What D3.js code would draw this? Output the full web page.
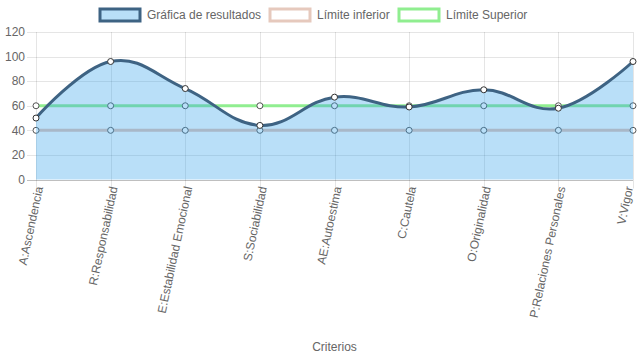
<!DOCTYPE html>
<html><head><meta charset="utf-8">
<script src="https://cdn.jsdelivr.net/npm/d3@7"></script>
<style>body{margin:0;background:#fff}svg{display:block}text{font-family:"Liberation Sans",Arial,sans-serif}</style>
</head><body>
<svg id="c" width="637" height="359"></svg>
<script>
const categories = ["A:Ascendencia","R:Responsabilidad","E:Estabilidad Emocional","S:Sociabilidad","AE:Autoestima","C:Cautela","O:Originalidad","P:Relaciones Personales","V:Vigor"];
const resultados = [50,96,74,44,67,59,73,58,96];
const limiteInferior = [40,40,40,40,40,40,40,40,40];
const limiteSuperior = [60,60,60,60,60,60,60,60,60];
const yTicks = [0,20,40,60,80,100,120];
const legendLabels = ["Gráfica de resultados","Límite inferior","Límite Superior"];
const axisTitle = "Criterios";

const svg = d3.select("#c");
const L = 36, R = 633, T = 32, B = 179.5;
const x = d3.scalePoint().domain(categories).range([L, R]);
const y = d3.scaleLinear().domain([0,120]).range([B, T]);
const txt = "#666";

// grid
const g = svg.append("g");
g.selectAll(".hg").data(yTicks).join("line")
  .attr("x1", L-9).attr("x2", R).attr("y1", d=>Math.round(y(d))+0.5).attr("y2", d=>Math.round(y(d))+0.5)
  .attr("stroke", d=> d===0 ? "rgba(0,0,0,0.25)" : "rgba(0,0,0,0.1)").attr("stroke-width",1);
g.selectAll(".vg").data(categories).join("line")
  .attr("x1", d=>Math.round(x(d))+0.5).attr("x2", d=>Math.round(x(d))+0.5)
  .attr("y1", T).attr("y2", B+9)
  .attr("stroke", "rgba(0,0,0,0.1)").attr("stroke-width",1);

// y labels
g.selectAll(".yl").data(yTicks).join("text")
  .attr("x", L-11).attr("y", d=>y(d)).attr("dy","0.35em").attr("text-anchor","end")
  .attr("font-size",12).attr("fill",txt).text(d=>d);

// x labels
g.selectAll(".xl").data(categories).join("text")
  .attr("transform", d=>`translate(${Math.min(x(d)+3, R-4)},${B+7}) rotate(-78)`)
  .attr("text-anchor","end").attr("dy","0.35em")
  .attr("font-size",12).attr("fill",txt).text(d=>d);

svg.append("text").attr("x",(L+R)/2).attr("y",351).attr("text-anchor","middle")
  .attr("font-size",12).attr("fill",txt).text(axisTitle);

const curve = d3.curveCardinal.tension(-0.2);
const line = d3.line().x((d,i)=>x(categories[i])).y(d=>y(d)).curve(curve);
const area = d3.area().x((d,i)=>x(categories[i])).y0(y(0)).y1(d=>y(d)).curve(curve);

function drawSeries(vals, stroke, pointStroke){
  svg.append("path").attr("d", line(vals)).attr("fill","none").attr("stroke",stroke).attr("stroke-width",3);
  svg.selectAll(null).data(vals).join("circle")
    .attr("cx",(d,i)=>x(categories[i])).attr("cy",d=>y(d)).attr("r",3)
    .attr("fill","#fff").attr("stroke",pointStroke).attr("stroke-width",1);
}
drawSeries(limiteSuperior, "#90ee90", "#555");
drawSeries(limiteInferior, "#e6c3b6", "#555");
svg.append("path").attr("d", area(resultados)).attr("fill","rgba(54,162,235,0.35)");
drawSeries(resultados, "#3e6383", "#333");

// legend
const leg = [
  {x:100, fill:"rgba(54,162,235,0.35)", stroke:"#3e6383", tx:147},
  {x:270, fill:"#fff", stroke:"#e6c9bd", tx:317},
  {x:399, fill:"#fff", stroke:"#90ee90", tx:446}
];
leg.forEach((l,i)=>{
  svg.append("rect").attr("x",l.x).attr("y",9).attr("width",40).attr("height",12)
    .attr("fill",l.fill).attr("stroke",l.stroke).attr("stroke-width",3);
  svg.append("text").attr("x",l.tx).attr("y",15).attr("dy","0.35em").attr("font-size",12).attr("fill",txt).text(legendLabels[i]);
});
</script>
</body></html>
